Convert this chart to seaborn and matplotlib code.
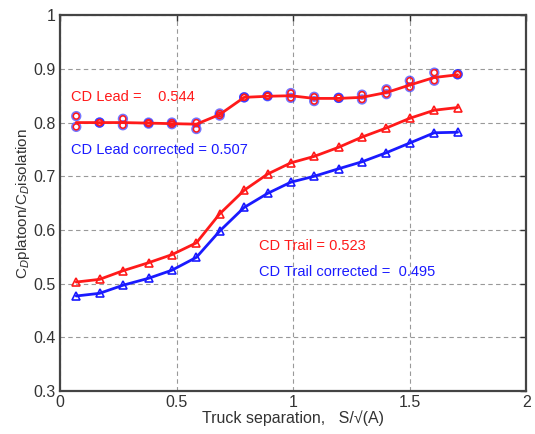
import matplotlib
matplotlib.use("Agg")
import matplotlib.pyplot as plt
import seaborn as sns
import pandas as pd

# ---- data ----
x_sep = [0.07, 0.17, 0.27, 0.38, 0.48, 0.585, 0.685, 0.79, 0.89, 0.99,
         1.09, 1.195, 1.295, 1.40, 1.50, 1.605, 1.705]

lead_line = [0.800, 0.800, 0.800, 0.799, 0.798, 0.797, 0.815, 0.847, 0.849, 0.850,
             0.845, 0.845, 0.847, 0.856, 0.870, 0.884, 0.889]
lead_run_a = [0.812, 0.800, 0.807, 0.800, 0.800, 0.800, 0.817, 0.847, 0.850, 0.855,
              0.848, 0.846, 0.852, 0.862, 0.878, 0.893, 0.890]
lead_run_b = [0.792, 0.800, 0.795, 0.798, 0.797, 0.788, 0.813, 0.847, 0.849, 0.846,
              0.840, 0.846, 0.843, 0.853, 0.866, 0.878, 0.890]

trail = [0.503, 0.508, 0.524, 0.539, 0.554, 0.576, 0.630, 0.674, 0.704, 0.725,
         0.737, 0.754, 0.773, 0.790, 0.808, 0.823, 0.828]
trail_corr = [0.477, 0.482, 0.497, 0.510, 0.525, 0.549, 0.598, 0.642, 0.668, 0.689,
              0.700, 0.714, 0.727, 0.744, 0.762, 0.781, 0.782]

labels = ["CD Lead =    0.544", "CD Lead corrected = 0.507",
          "CD Trail = 0.523", "CD Trail corrected =  0.495"]

x_ticks = [0, 0.5, 1, 1.5, 2]
y_ticks = [0.3, 0.4, 0.5, 0.6, 0.7, 0.8, 0.9, 1.0]
x_ticklabels = ["0", "0.5", "1", "1.5", "2"]
y_ticklabels = ["0.3", "0.4", "0.5", "0.6", "0.7", "0.8", "0.9", "1"]

# ---- styling ----
sns.set_theme(style="white")
plt.rcParams["font.family"] = ["Liberation Sans", "DejaVu Sans"]

RED = "#ff1a1a"
BLUE = "#1a1aff"

df = pd.DataFrame({"x": x_sep, "lead": lead_line, "a": lead_run_a, "b": lead_run_b,
                   "trail": trail, "trail_corr": trail_corr})

fig = plt.figure(figsize=(5.35, 4.34), dpi=100)
ax = fig.add_axes([0.112, 0.099, 0.872, 0.866])

# Lead corrected (blue) sits underneath lead (red)
for col in ["a", "b"]:
    sns.scatterplot(data=df, x="x", y=col, ax=ax, marker="o", s=34,
                    facecolor="none", edgecolor=BLUE, linewidth=1.6, alpha=0.6,
                    zorder=3, legend=False)
sns.lineplot(data=df, x="x", y="lead", ax=ax, color=RED, linewidth=2.0,
             zorder=4, legend=False)
for col in ["a", "b"]:
    sns.scatterplot(data=df, x="x", y=col, ax=ax, marker="o", s=18,
                    facecolor="none", edgecolor=RED, linewidth=1.1,
                    zorder=5, legend=False)

# Trail
sns.lineplot(data=df, x="x", y="trail", ax=ax, color=RED, linewidth=2.0,
             marker="^", markersize=6, markerfacecolor="none",
             markeredgecolor=RED, markeredgewidth=1.2, zorder=4, legend=False)
sns.lineplot(data=df, x="x", y="trail_corr", ax=ax, color=BLUE, linewidth=2.0,
             marker="^", markersize=6, markerfacecolor="none",
             markeredgecolor=BLUE, markeredgewidth=1.2, zorder=4, legend=False)

# annotations
ax.text(0.046, 0.847, labels[0], color=RED, fontsize=10.5, va="center", ha="left")
ax.text(0.046, 0.749, labels[1], color=BLUE, fontsize=10.5, va="center", ha="left")
ax.text(0.855, 0.571, labels[2], color=RED, fontsize=10.5, va="center", ha="left")
ax.text(0.855, 0.522, labels[3], color=BLUE, fontsize=10.5, va="center", ha="left")

ax.set_xlim(0, 2)
ax.set_ylim(0.3, 1.0)
ax.set_xticks(x_ticks)
ax.set_xticklabels(x_ticklabels)
ax.set_yticks(y_ticks)
ax.set_yticklabels(y_ticklabels)
ax.tick_params(axis="both", which="both", direction="in", length=4,
               labelsize=11.5, colors="#333333", top=True, right=True,
               width=1.0, pad=3)
ax.grid(True, linestyle=(0, (4, 3)), color="#999999", linewidth=0.8)
for s in ax.spines.values():
    s.set_visible(True)
    s.set_color("#444444")
    s.set_linewidth(1.6)

ax.set_xlabel("Truck separation,   S/\u221a(A)", fontsize=11.5, color="#333333",
              labelpad=0)
ax.set_ylabel("C$_D$platoon/C$_D$isolation", fontsize=11, color="#333333",
              labelpad=1)

fig.savefig("out.png", dpi=100)
